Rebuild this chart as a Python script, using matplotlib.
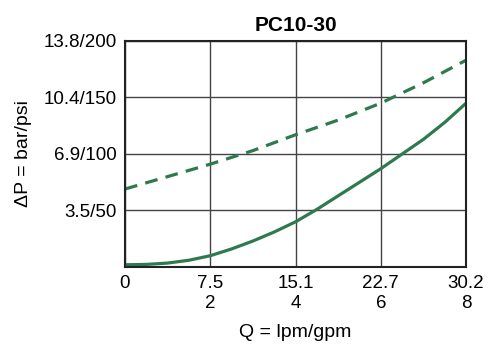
import matplotlib
matplotlib.use('Agg')
import matplotlib.pyplot as plt

plt.rcParams['font.family'] = ['Liberation Sans', 'DejaVu Sans']

# donnees (debit en gpm, pression en psi)
gpm_dashed = [0, 1, 2, 3, 4, 5, 6, 7, 8]
psi_dashed = [69, 80, 91, 103, 117, 130, 145, 163, 183]

gpm_solid = [0, 0.5, 1, 1.5, 2, 2.5, 3, 3.5, 4, 4.5, 5, 5.5, 6, 6.5, 7, 7.5, 8]
psi_solid = [2, 2.3, 3.5, 6, 10, 16, 23, 31, 40, 51, 63, 75, 87, 100, 113, 128, 145]

x_ticks = [0, 2, 4, 6, 8]
x_labels = ['0', '7.5\n2', '15.1\n4', '22.7\n6', '30.2\n8']
y_ticks = [50, 100, 150, 200]
y_labels = ['3.5/50', '6.9/100', '10.4/150', '13.8/200']

green = '#2e7a4e'

figure = plt.figure(figsize=(4.98, 3.47), dpi=100)
axes = figure.add_axes([0.251, 0.2305, 0.685, 0.6515])

axes.plot(gpm_dashed, psi_dashed, color=green, linewidth=2.3, linestyle=(0, (4, 2.6)))
axes.plot(gpm_solid, psi_solid, color=green, linewidth=2.3)

axes.set_xlim(0, 8)
axes.set_ylim(0, 200)
axes.set_xticks(x_ticks)
axes.set_xticklabels(x_labels, fontsize=13.5, linespacing=1.2)
axes.set_yticks(y_ticks)
axes.set_yticklabels(y_labels, fontsize=13.5)
axes.tick_params(length=0, pad=6)

axes.grid(True, color='#444444', linewidth=1.0)
axes.set_axisbelow(True)
for spine in axes.spines.values():
    spine.set_color('#222222')
    spine.set_linewidth(1.5)

axes.set_title('PC10-30', fontsize=15, fontweight='bold', pad=7)
axes.set_xlabel('Q = lpm/gpm', fontsize=14, labelpad=9)
axes.set_ylabel('ΔP = bar/psi', fontsize=14, labelpad=8)

figure.savefig('out.png', dpi=100)
